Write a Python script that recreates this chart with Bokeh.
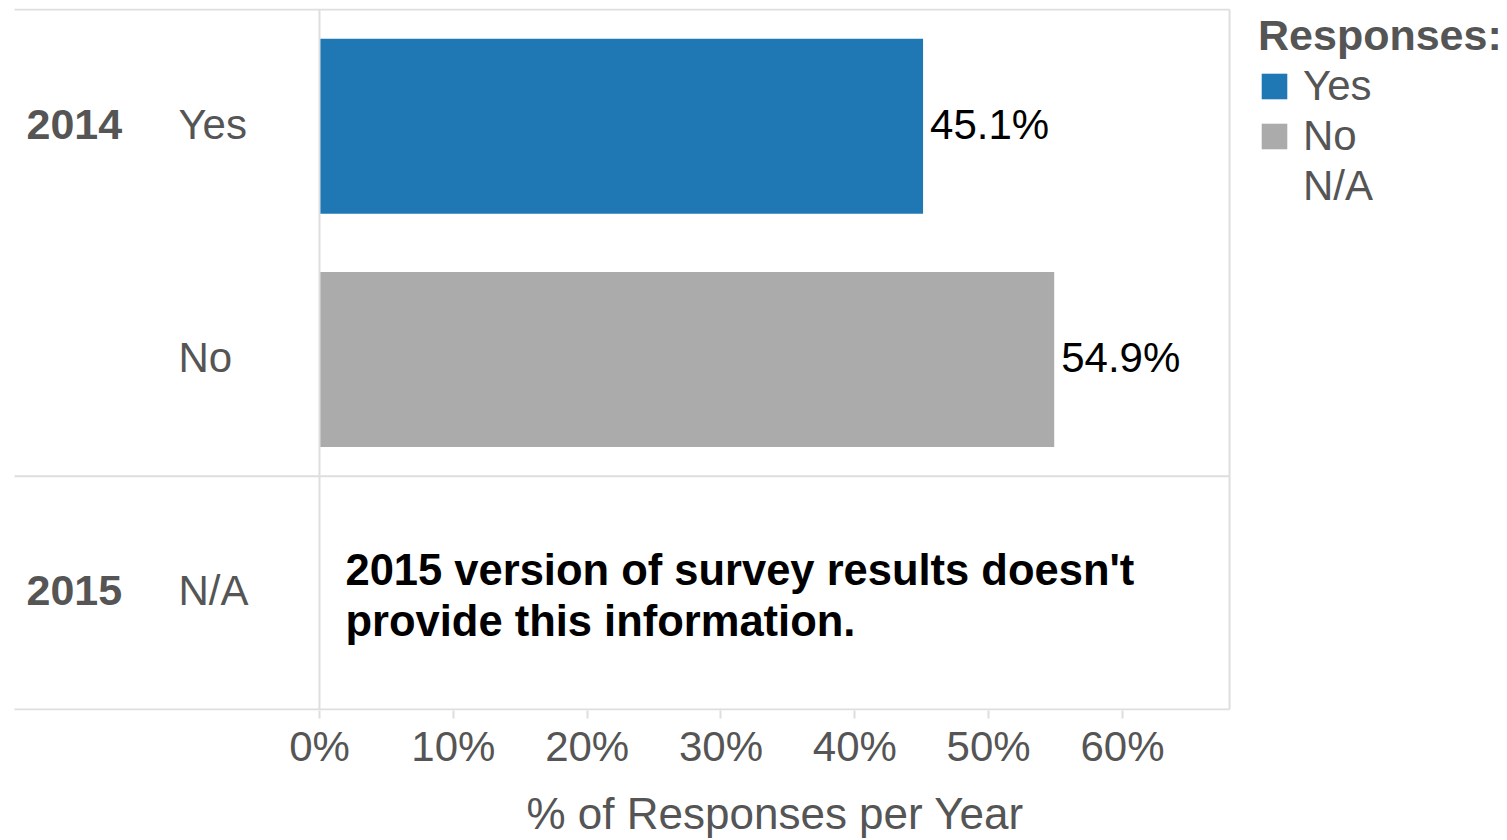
from bokeh.plotting import figure
from bokeh.models import Range1d, FixedTicker, Legend, LegendItem, Title
from bokeh.core.properties import value
from bokeh.embed import file_html
from bokeh.resources import INLINE

# ---- data ----
years = ["2014", "", "2015"]
responses = ["Yes", "No", "N/A"]
percent = [45.1, 54.9, float("nan")]
bar_colors = ["#1f77b4", "#ababab", "#ffffff"]
tick_values = [0, 10, 20, 30, 40, 50, 60]
tick_labels = ["0%", "10%", "20%", "30%", "40%", "50%", "60%"]
note_lines = ["2015 version of survey results doesn't", "provide this information."]
x_title = "% of Responses per Year"
legend_title = "Responses:"

FONT = "Liberation Sans"
GREY_TXT = "#555555"
RULE = "#dedede"

n = len(responses)
row_y = [n - i - 0.5 for i in range(n)]  # 2.5, 1.5, 0.5
px_per_y = 700 / 3.0
X_MAX = 68.0

p = figure(
    frame_width=1241, frame_height=702,
    x_range=Range1d(-22.79, 69.94),
    y_range=Range1d(-1 / px_per_y, 3 + 1 / px_per_y),
    output_backend="svg", toolbar_location=None,
    min_border_left=14, min_border_top=8, min_border_bottom=130, min_border_right=0,
)
p.outline_line_color = None
p.xgrid.visible = False
p.ygrid.visible = False
p.yaxis.visible = False
p.background_fill_color = "white"
p.border_fill_color = "white"

# bars
renderers = []
for i in range(n):
    r = p.hbar(y=[row_y[i]], right=[percent[i]], left=0, height=0.75,
               fill_color=bar_colors[i], line_color=None,
               fill_alpha=1.0 if percent[i] == percent[i] else 0.0)
    renderers.append(r)

# value labels
for i in range(n):
    if percent[i] == percent[i]:
        p.text(x=[percent[i]], y=[row_y[i]], text=[f"{percent[i]:.1f}%"],
               x_offset=7, y_offset=-2, text_align="left", text_baseline="middle",
               text_font=value(FONT), text_font_size="42px", text_color="black")

# row header labels
p.text(x=[-21.89] * n, y=row_y, text=years, y_offset=-2, text_align="left", text_baseline="middle",
       text_font=value(FONT), text_font_style="bold", text_font_size="43px", text_color=GREY_TXT)
p.text(x=[-10.54] * n, y=row_y, text=responses, y_offset=-2, text_align="left", text_baseline="middle",
       text_font=value(FONT), text_font_size="42px", text_color=GREY_TXT)

# rule lines
p.segment(x0=[-30, -30, -30], x1=[X_MAX] * 3, y0=[3, 1, 0], y1=[3, 1, 0],
          line_color=RULE, line_width=2)
p.segment(x0=[0, X_MAX], x1=[0, X_MAX], y0=[0, 0], y1=[3, 3], line_color=RULE, line_width=2)

# note for 2015
p.text(x=[1.94, 1.94], y=[row_y[2] + 0.096, row_y[2] - 0.122], text=note_lines, text_align="left",
       text_baseline="alphabetic", text_font=value(FONT), text_font_style="bold",
       text_font_size="43.5px", text_color="black")

# x axis
ax = p.xaxis[0]
ax.ticker = FixedTicker(ticks=tick_values)
ax.major_label_overrides = {v: l for v, l in zip(tick_values, tick_labels)}
ax.axis_line_color = None
ax.major_tick_line_color = RULE
ax.major_tick_line_width = 2
ax.major_tick_in = 0
ax.major_tick_out = 8
ax.minor_tick_line_color = None
ax.major_label_text_font = FONT
ax.major_label_text_font_size = "42px"
ax.major_label_text_color = GREY_TXT
ax.major_label_standoff = 4

# x axis title (placed under the axis, centred on the bar area)
p.add_layout(Title(text=x_title, align="left", offset=512, standoff=29,
                   text_font=FONT, text_font_size="44px", text_font_style="normal",
                   text_color=GREY_TXT), "below")

# legend
items = [LegendItem(label=responses[i], renderers=[renderers[i]]) for i in range(n)]
legend = Legend(items=items, location="top_left", title=legend_title,
                title_text_font=FONT, title_text_font_style="bold", title_text_font_size="43px",
                title_text_color=GREY_TXT, title_standoff=2,
                label_text_font=FONT, label_text_font_size="42px", label_text_color=GREY_TXT,
                glyph_width=32, glyph_height=32, label_standoff=13, spacing=2,
                margin=3, padding=0, border_line_color=None, background_fill_alpha=0)
p.add_layout(legend, "right")

open("out.html", "w").write(file_html(p, INLINE))
